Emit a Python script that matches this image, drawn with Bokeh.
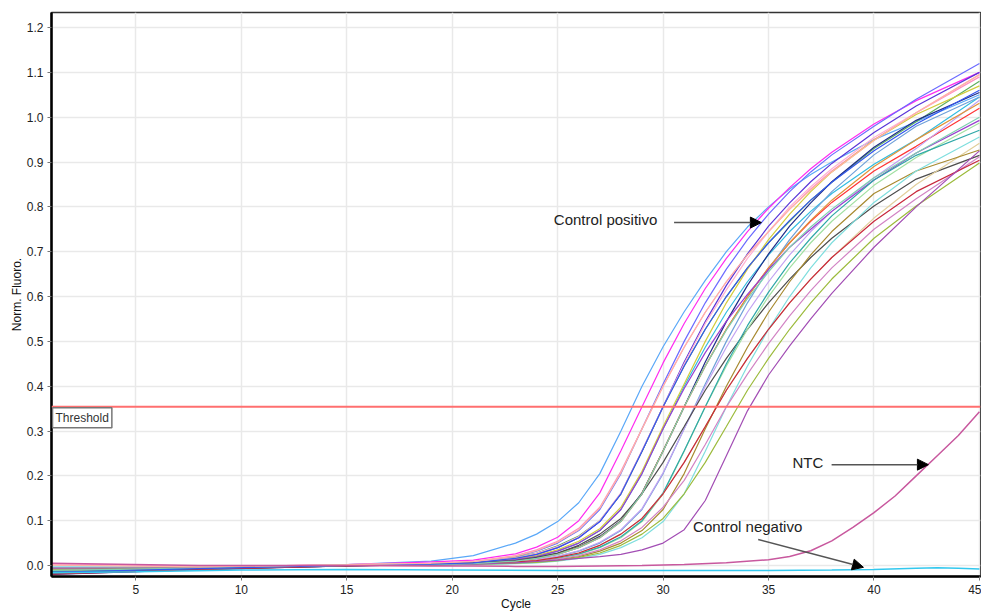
from bokeh.plotting import figure
from bokeh.models import Range1d, FixedTicker, PrintfTickFormatter, Span, Label, Arrow, NormalHead
from bokeh.embed import file_html
from bokeh.resources import INLINE

# Cycles at which the amplification curves were read
cycles = [1, 8, 15, 19, 21, 23, 24, 25, 26, 27, 28, 29, 30, 31, 32, 33, 34, 35, 36, 37, 38, 40, 42, 45]

s01 = [-0.012, -0.006, 0.002, 0.010, 0.022, 0.050, 0.070, 0.098, 0.140, 0.205, 0.300, 0.400, 0.488, 0.566, 0.636, 0.700, 0.755, 0.800, 0.840, 0.872, 0.900, 0.950, 0.990, 1.050]
s02 = [0.004, -0.004, 0.002, 0.008, 0.012, 0.026, 0.041, 0.063, 0.100, 0.162, 0.256, 0.354, 0.452, 0.540, 0.618, 0.685, 0.745, 0.797, 0.843, 0.885, 0.922, 0.985, 1.037, 1.100]
s03 = [-0.008, -0.005, 0.001, 0.004, 0.008, 0.020, 0.032, 0.050, 0.078, 0.125, 0.205, 0.305, 0.405, 0.500, 0.586, 0.661, 0.727, 0.784, 0.834, 0.878, 0.916, 0.980, 1.040, 1.120]
s04 = [0.002, -0.003, 0.002, 0.005, 0.009, 0.022, 0.035, 0.054, 0.083, 0.130, 0.210, 0.305, 0.400, 0.487, 0.565, 0.633, 0.693, 0.745, 0.795, 0.840, 0.880, 0.950, 1.010, 1.090]
s05 = [-0.015, -0.007, 0.000, 0.003, 0.006, 0.016, 0.025, 0.040, 0.062, 0.098, 0.160, 0.255, 0.354, 0.454, 0.544, 0.625, 0.695, 0.757, 0.809, 0.856, 0.897, 0.966, 1.025, 1.100]
s06 = [-0.010, -0.005, 0.001, 0.004, 0.007, 0.018, 0.028, 0.044, 0.066, 0.100, 0.160, 0.255, 0.354, 0.445, 0.527, 0.600, 0.664, 0.720, 0.768, 0.815, 0.855, 0.930, 0.990, 1.080]
s07 = [-0.018, -0.008, -0.001, 0.003, 0.005, 0.013, 0.020, 0.032, 0.050, 0.078, 0.125, 0.205, 0.305, 0.400, 0.487, 0.565, 0.633, 0.693, 0.745, 0.790, 0.830, 0.895, 0.950, 1.045]
s08 = [-0.006, -0.004, 0.001, 0.004, 0.006, 0.015, 0.022, 0.035, 0.054, 0.082, 0.130, 0.210, 0.310, 0.405, 0.500, 0.586, 0.661, 0.727, 0.784, 0.834, 0.878, 0.949, 1.006, 1.070]
s09 = [0.003, -0.003, 0.002, 0.005, 0.008, 0.017, 0.027, 0.042, 0.064, 0.100, 0.162, 0.257, 0.354, 0.450, 0.540, 0.615, 0.685, 0.745, 0.800, 0.845, 0.885, 0.955, 1.010, 1.095]
s10 = [-0.014, -0.007, 0.000, 0.002, 0.004, 0.010, 0.016, 0.025, 0.040, 0.062, 0.098, 0.160, 0.255, 0.354, 0.445, 0.527, 0.600, 0.664, 0.720, 0.768, 0.810, 0.880, 0.935, 1.020]
s11 = [-0.020, -0.009, -0.001, 0.002, 0.004, 0.011, 0.017, 0.027, 0.042, 0.065, 0.100, 0.162, 0.256, 0.354, 0.454, 0.544, 0.625, 0.695, 0.757, 0.809, 0.856, 0.933, 0.993, 1.055]
s12 = [-0.016, -0.008, -0.001, 0.002, 0.004, 0.008, 0.013, 0.020, 0.032, 0.050, 0.078, 0.125, 0.205, 0.305, 0.405, 0.500, 0.586, 0.661, 0.727, 0.784, 0.834, 0.916, 0.980, 1.045]
s13 = [-0.004, -0.004, 0.001, 0.003, 0.004, 0.008, 0.013, 0.021, 0.033, 0.052, 0.080, 0.127, 0.207, 0.305, 0.400, 0.487, 0.565, 0.633, 0.693, 0.745, 0.790, 0.865, 0.930, 1.038]
s14 = [-0.009, -0.006, 0.000, 0.002, 0.004, 0.010, 0.016, 0.026, 0.041, 0.063, 0.099, 0.161, 0.256, 0.354, 0.445, 0.527, 0.600, 0.664, 0.720, 0.770, 0.815, 0.890, 0.950, 1.031]
s15 = [-0.012, -0.006, 0.000, 0.003, 0.005, 0.013, 0.020, 0.032, 0.050, 0.078, 0.125, 0.205, 0.305, 0.395, 0.475, 0.545, 0.605, 0.660, 0.710, 0.750, 0.790, 0.860, 0.920, 0.993]
s16 = [-0.017, -0.008, -0.001, 0.003, 0.006, 0.011, 0.018, 0.028, 0.045, 0.070, 0.105, 0.160, 0.230, 0.310, 0.391, 0.462, 0.527, 0.586, 0.639, 0.687, 0.730, 0.802, 0.862, 0.915]
s17 = [-0.005, -0.004, 0.001, 0.002, 0.003, 0.006, 0.010, 0.016, 0.025, 0.040, 0.062, 0.098, 0.160, 0.255, 0.354, 0.445, 0.527, 0.600, 0.664, 0.720, 0.768, 0.848, 0.910, 0.987]
s18 = [-0.013, -0.007, 0.000, 0.002, 0.003, 0.006, 0.010, 0.017, 0.026, 0.041, 0.064, 0.100, 0.162, 0.256, 0.354, 0.450, 0.535, 0.610, 0.675, 0.730, 0.780, 0.860, 0.915, 0.971]
s19 = [-0.007, -0.005, 0.000, 0.002, 0.004, 0.008, 0.011, 0.018, 0.028, 0.045, 0.070, 0.105, 0.160, 0.230, 0.310, 0.391, 0.462, 0.527, 0.586, 0.639, 0.687, 0.775, 0.850, 0.942]
s20 = [-0.011, -0.006, 0.000, 0.002, 0.003, 0.005, 0.008, 0.013, 0.020, 0.032, 0.050, 0.078, 0.125, 0.205, 0.305, 0.400, 0.487, 0.565, 0.633, 0.693, 0.745, 0.830, 0.880, 0.927]
s21 = [-0.003, -0.003, 0.001, 0.001, 0.002, 0.004, 0.006, 0.010, 0.016, 0.025, 0.040, 0.062, 0.098, 0.160, 0.255, 0.354, 0.445, 0.527, 0.600, 0.664, 0.720, 0.810, 0.880, 0.956]
s22 = [-0.010, -0.006, 0.000, 0.002, 0.003, 0.006, 0.009, 0.014, 0.022, 0.035, 0.055, 0.085, 0.130, 0.190, 0.270, 0.354, 0.427, 0.495, 0.557, 0.613, 0.664, 0.750, 0.818, 0.912]
s23 = [-0.019, -0.009, -0.001, 0.002, 0.004, 0.008, 0.011, 0.018, 0.028, 0.045, 0.070, 0.105, 0.160, 0.230, 0.310, 0.391, 0.462, 0.527, 0.586, 0.639, 0.687, 0.768, 0.834, 0.904]
s24 = [-0.008, -0.005, 0.000, 0.001, 0.003, 0.005, 0.007, 0.011, 0.018, 0.028, 0.045, 0.070, 0.105, 0.160, 0.230, 0.310, 0.391, 0.462, 0.527, 0.586, 0.639, 0.730, 0.802, 0.898]
s25 = [-0.006, -0.005, 0.000, 0.001, 0.003, 0.006, 0.009, 0.012, 0.016, 0.020, 0.025, 0.035, 0.050, 0.080, 0.145, 0.245, 0.345, 0.425, 0.490, 0.550, 0.607, 0.710, 0.800, 0.925]
s26 = [-0.011, -0.006, 0.000, 0.002, 0.004, 0.010, 0.016, 0.025, 0.040, 0.062, 0.098, 0.160, 0.255, 0.354, 0.445, 0.525, 0.595, 0.655, 0.710, 0.755, 0.795, 0.865, 0.920, 1.000]
s27 = [-0.015, -0.007, 0.000, 0.003, 0.006, 0.016, 0.025, 0.040, 0.062, 0.098, 0.160, 0.255, 0.354, 0.445, 0.527, 0.600, 0.664, 0.720, 0.770, 0.815, 0.855, 0.925, 0.985, 1.060]
s28 = [0.001, -0.003, 0.002, 0.005, 0.009, 0.021, 0.033, 0.052, 0.080, 0.128, 0.207, 0.305, 0.400, 0.487, 0.565, 0.633, 0.693, 0.745, 0.795, 0.838, 0.878, 0.948, 1.010, 1.095]

sample_colors = ["#5aa8f8", "#ff2cf0", "#6b6bff", "#ff8ec0", "#5a35d8", "#5fae5f", "#33bde0",
                 "#d2cc3c", "#ffb0d2", "#ff3535", "#1f2d8a", "#6fa0d8", "#c2a2f2", "#e0953a",
                 "#9a3fd0", "#4d4d4d", "#a2e0a2", "#2fa8a8", "#e2cf9c", "#a88a30", "#7fdede",
                 "#d283c4", "#c8283c", "#9cbb3c", "#a24db4", "#7fd0b0", "#3456ee", "#ffb4a4"]

# NTC and negative control
ntc_cycles = [1, 8, 15, 19, 21, 23, 25, 27, 29, 31, 33, 35, 36, 37, 38, 39, 40, 41, 42, 43, 44, 45]
ntc_vals = [0.005, 0.000, 0.000, -0.001, -0.001, -0.002, -0.002, -0.001, 0.000, 0.002, 0.006, 0.013, 0.020, 0.033, 0.055, 0.085, 0.118, 0.155, 0.200, 0.245, 0.290, 0.343]
neg_cycles = [1, 5, 10, 15, 20, 25, 30, 35, 38, 40, 42, 43, 44, 45]
neg_vals = [-0.016, -0.014, -0.010, -0.009, -0.010, -0.011, -0.011, -0.011, -0.010, -0.009, -0.006, -0.005, -0.006, -0.008]

threshold = 0.354
x_ticks = [5, 10, 15, 20, 25, 30, 35, 40, 45]
y_ticks = [0.0, 0.1, 0.2, 0.3, 0.4, 0.5, 0.6, 0.7, 0.8, 0.9, 1.0, 1.1, 1.2]

FONT = "Liberation Sans"

p = figure(width=981, height=613, output_backend="svg", toolbar_location=None,
           x_range=Range1d(1, 45.05), y_range=Range1d(-0.0245, 1.2336),
           min_border_left=51, min_border_right=1, min_border_top=12, min_border_bottom=36,
           x_axis_label="Cycle", y_axis_label="Norm. Fluoro.")

p.background_fill_color = "white"
p.border_fill_color = "white"
p.outline_line_color = "#333333"
p.outline_line_width = 1.5

p.xaxis.ticker = FixedTicker(ticks=x_ticks)
p.yaxis.ticker = FixedTicker(ticks=y_ticks)
p.yaxis.formatter = PrintfTickFormatter(format="%.1f")
for ax in (p.xaxis, p.yaxis):
    ax.axis_line_color = "black"
    ax.axis_line_width = 2.5
    ax.major_tick_in = 0
    ax.major_tick_out = 4
    ax.major_tick_line_color = "#777777"
    ax.minor_tick_line_color = None
    ax.major_label_text_font = FONT
    ax.major_label_text_font_size = "12px"
    ax.major_label_text_color = "#222222"
    ax.major_label_standoff = 4
    ax.axis_label_text_font = FONT
    ax.axis_label_text_font_size = "12px"
    ax.axis_label_text_font_style = "normal"
    ax.axis_label_text_color = "#111111"
    ax.axis_label_standoff = 0

p.grid.grid_line_color = "#e9e9e9"
p.grid.grid_line_width = 1.5

series = [s01, s02, s03, s04, s05, s06, s07, s08, s09, s10, s11, s12, s13, s14,
          s15, s16, s17, s18, s19, s20, s21, s22, s23, s24, s25, s26, s27, s28]
for vals, col in zip(series, sample_colors):
    p.line(cycles, vals, line_color=col, line_width=1.2)

p.line(ntc_cycles, ntc_vals, line_color="#c8589e", line_width=1.5)
p.line(neg_cycles, neg_vals, line_color="#33c8ee", line_width=1.5)

p.add_layout(Span(location=threshold, dimension="width", line_color="#ff6f6f", line_width=2))
p.add_layout(Label(x=1, y=threshold, x_offset=1, y_offset=-1, text="Threshold", anchor="top_left",
                   text_font=FONT, text_font_size="12px", text_color="#333333",
                   border_line_color="#777777", border_line_width=1.5,
                   background_fill_color="white", padding=3))

def annot(tx, ty, text, x0, y0, x1, y1):
    p.add_layout(Label(x=tx, y=ty, text=text, text_baseline="middle", text_font=FONT,
                       text_font_size="15px", text_color="#222222"))
    p.add_layout(Arrow(end=NormalHead(size=11, fill_color="black", line_color="black"),
                       x_start=x0, y_start=y0, x_end=x1, y_end=y1,
                       line_color="#555555", line_width=1.5))

annot(24.82, 0.771, "Control positivo", 30.52, 0.765, 34.66, 0.765)
annot(36.13, 0.229, "NTC", 37.99, 0.225, 42.58, 0.225)
annot(31.42, 0.087, "Control negativo", 34.51, 0.058, 39.5, -0.004)

open("out.html", "w").write(file_html(p, INLINE))
